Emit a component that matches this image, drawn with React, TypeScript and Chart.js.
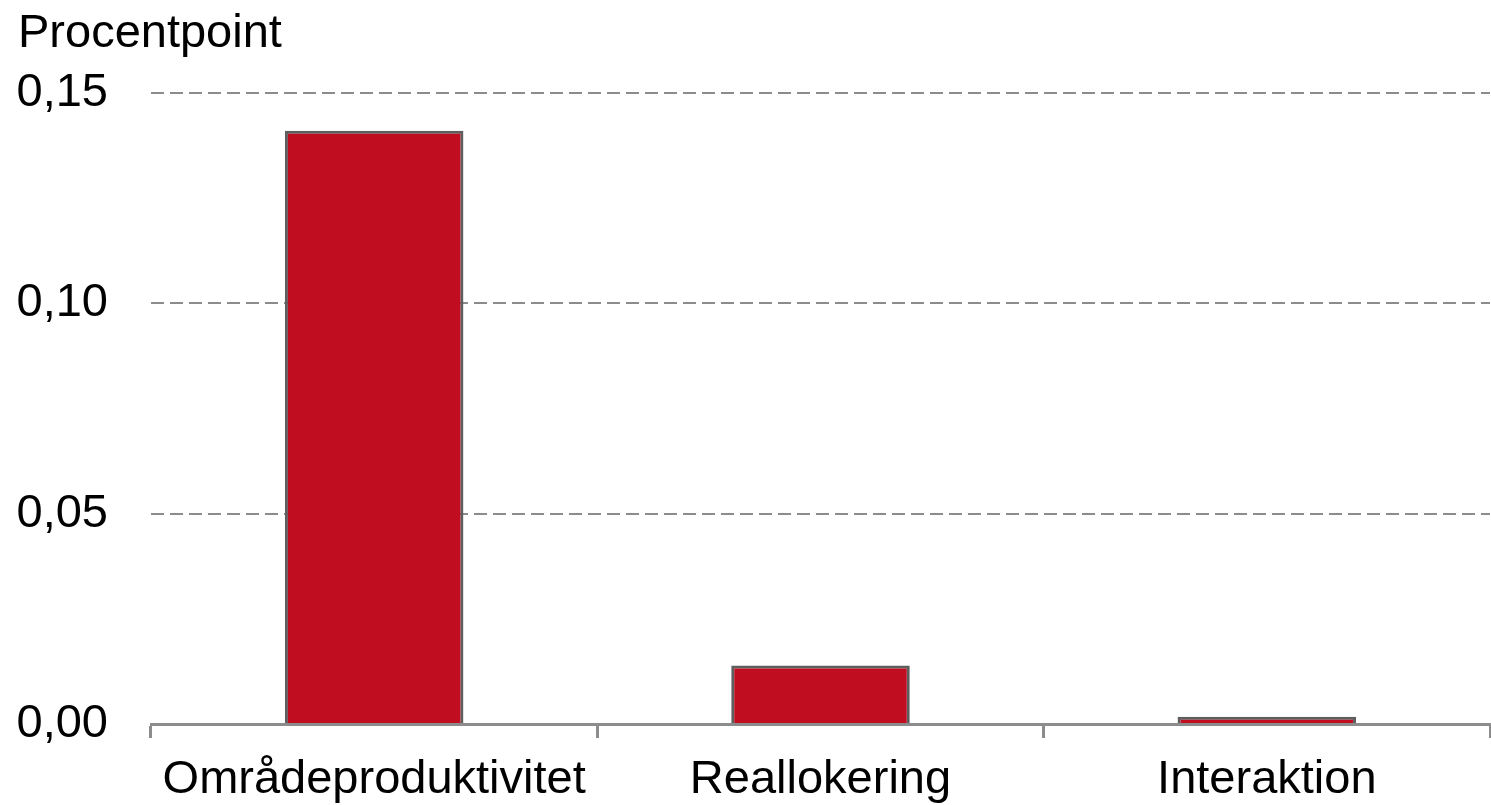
import React, { useEffect, useRef } from "react";
import { Chart, registerables } from "chart.js";

Chart.register(...registerables);

const categories = ["Områdeproduktivitet", "Reallokering", "Interaktion"];
const values = [0.141, 0.0139, 0.0017];
const yTickValues = [0, 0.05, 0.1, 0.15];
const yTickLabels = ["0,00", "0,05", "0,10", "0,15"];
const yAxisTitle = "Procentpoint";

const FONT = "'Liberation Sans', Arial, sans-serif";
const FS = 47;

export default function App() {
  const ref = useRef<HTMLCanvasElement | null>(null);

  useEffect(() => {
    document.body.style.margin = "0";
    const canvas = ref.current;
    if (!canvas) return;
    const chart = new Chart(canvas, {
      type: "bar",
      data: {
        labels: categories,
        datasets: [
          {
            data: values,
            backgroundColor: "#C00D20",
            borderColor: "#5E5E5E",
            borderWidth: 3,
            borderSkipped: "bottom",
            categoryPercentage: 0.8,
            barPercentage: 0.5,
          },
        ],
      },
      options: {
        animation: false,
        responsive: true,
        maintainAspectRatio: false,
        layout: { padding: { left: 18, right: 1, top: 0, bottom: 0 } },
        plugins: {
          legend: { display: false },
          tooltip: { enabled: false },
          title: {
            display: true,
            text: yAxisTitle,
            align: "start",
            color: "#000000",
            font: { family: FONT, size: FS, weight: "normal" },
            padding: { top: 6, bottom: 30.6 },
          },
        },
        scales: {
          x: {
            afterFit: (axis: any) => {
              axis.paddingLeft = 0;
              axis.paddingRight = 0;
              axis.height = 81;
            },
            border: { display: true, color: "#8C8C8C", width: 3 },
            grid: {
              display: true,
              drawOnChartArea: false,
              drawTicks: true,
              tickLength: 14,
              offset: true,
              color: "#8C8C8C",
              lineWidth: 3,
            },
            ticks: {
              color: "#000000",
              font: { family: FONT, size: FS },
              padding: 14,
              maxRotation: 0,
              autoSkip: false,
            },
          },
          y: {
            min: 0,
            max: 0.15,
            afterBuildTicks: (axis: any) => {
              axis.ticks = yTickValues.map((v) => ({ value: v }));
            },
            afterFit: (axis: any) => {
              axis.width = 133;
              axis.paddingTop = 0;
              axis.paddingBottom = 0;
            },
            grid: {
              drawTicks: false,
              color: (ctx: any) => (ctx.tick && ctx.tick.value === 0 ? "rgba(0,0,0,0)" : "#8C8C8C"),
              lineWidth: 2,
            },
            border: { display: false, dash: [13, 6] },
            ticks: {
              color: "#000000",
              font: { family: FONT, size: FS },
              padding: 43,
              callback: (_v: any, i: number) => yTickLabels[i],
            },
          },
        },
      } as any,
    });
    return () => chart.destroy();
  }, []);

  return (
    <div style={{ position: "absolute", left: 0, top: 0, width: 1491, height: 805 }}>
      <canvas ref={ref} />
    </div>
  );
}
